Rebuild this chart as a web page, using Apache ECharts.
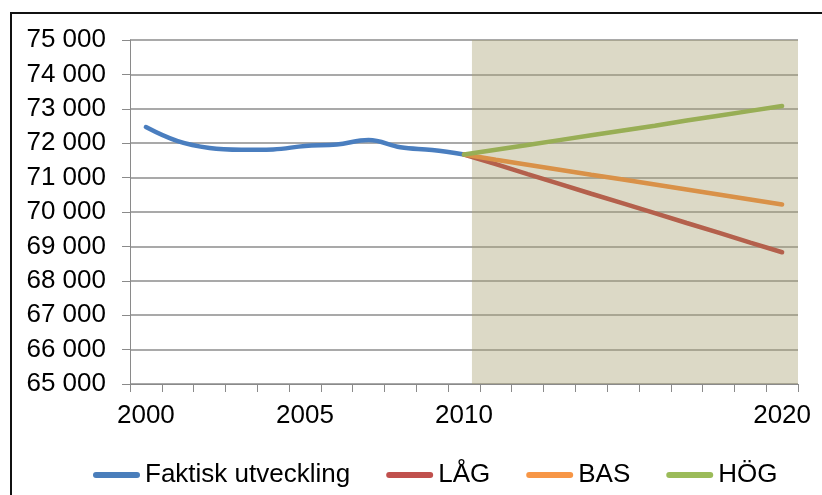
<!DOCTYPE html>
<html>
<head>
<meta charset="utf-8">
<script src="https://cdn.jsdelivr.net/npm/echarts@6/dist/echarts.min.js"></script>
<style>
  html, body { margin: 0; padding: 0; background: #fff; }
  #chart { width: 822px; height: 495px; }
</style>
</head>
<body>
<div id="chart"></div>
<script>
// år på x-axeln
var years = ['2000','2001','2002','2003','2004','2005','2006','2007','2008','2009','2010',
             '2011','2012','2013','2014','2015','2016','2017','2018','2019','2020'];
var labelYears = ['2000','2005','2010','2020'];

// utfall och prognoser (null = inget värde)
var faktisk = [72470, 72060, 71860, 71810, 71820, 71920, 71960, 72090, 71880, 71800, 71670,
               null, null, null, null, null, null, null, null, null, null];
var lag = [null, null, null, null, null, null, null, null, null, null, 71670,
           71390, 71100, 70820, 70530, 70250, 69970, 69680, 69400, 69110, 68830];
var bas = [null, null, null, null, null, null, null, null, null, null, 71670,
           71520, 71375, 71230, 71085, 70945, 70800, 70655, 70510, 70365, 70220];
var hog = [null, null, null, null, null, null, null, null, null, null, 71670,
           71810, 71950, 72090, 72230, 72370, 72510, 72660, 72800, 72940, 73080];

// prognosperiodens skuggade fält (i kategoriposition)
var shadeFrom = 10.75;
var shadeTo = 21;

var font = 'Liberation Sans, Arial, sans-serif';
var chart = echarts.init(document.getElementById('chart'));

function fmt(v) {
  return String(v).replace(/\B(?=(\d{3})+$)/g, ' ');
}

var legendIcon = 'path://M3,0H44A3,3,0,0,1,44,6H3A3,3,0,0,1,3,0Z';

var option = {
  animation: false,
  graphic: [{
    type: 'rect',
    shape: { x: 11, y: 13, width: 900, height: 600 },
    style: { fill: 'none', stroke: '#111', lineWidth: 2 },
    silent: true
  }],
  grid: { left: 130, right: 24, top: 40, bottom: 111 },
  legend: {
    left: 88,
    top: 457,
    itemWidth: 47,
    itemHeight: 6,
    itemGap: 36,
    icon: legendIcon,
    textStyle: { fontSize: 26, fontFamily: font, color: '#000' },
    data: [
      { name: 'Faktisk utveckling', itemStyle: { color: '#4A7EBB' } },
      { name: 'LÅG', itemStyle: { color: '#C0504D' } },
      { name: 'BAS', itemStyle: { color: '#F79646' } },
      { name: 'HÖG', itemStyle: { color: '#9BBB59' } }
    ]
  },
  xAxis: [{
    type: 'category',
    data: years,
    boundaryGap: true,
    axisLine: { lineStyle: { color: '#8a8a8a', width: 1 } },
    axisTick: { show: true, interval: 0, length: 8, lineStyle: { color: '#8a8a8a' } },
    axisLabel: {
      interval: function (i, v) { return labelYears.indexOf(v) >= 0; },
      color: '#000', fontSize: 26, fontFamily: font, margin: 19
    },
    splitLine: { show: false }
  }, {
    type: 'value',
    min: 0,
    max: 21,
    show: false
  }],
  yAxis: {
    type: 'value',
    min: 65000,
    max: 75000,
    interval: 1000,
    axisLine: { show: true, lineStyle: { color: '#8a8a8a', width: 1 } },
    axisTick: { show: true, length: 8, lineStyle: { color: '#8a8a8a' } },
    axisLabel: { formatter: fmt, color: '#000', fontSize: 26, fontFamily: font, margin: 24 },
    splitLine: { show: true, lineStyle: { color: '#8c8c8c', width: 1.5 } }
  },
  series: [
    {
      name: 'prognos',
      type: 'line',
      xAxisIndex: 1,
      data: [],
      z: 1,
      silent: true,
      markArea: {
        silent: true,
        itemStyle: { color: 'rgba(168,160,113,0.4)' },
        data: [[{ xAxis: shadeFrom, yAxis: 65000 }, { xAxis: shadeTo, yAxis: 75000 }]]
      }
    },
    {
      name: 'Faktisk utveckling',
      type: 'line',
      data: faktisk,
      smooth: 0.4,
      showSymbol: false,
      z: 3,
      lineStyle: { color: '#4A7EBF', width: 4.5, cap: 'round' },
      itemStyle: { color: '#4A7EBF' }
    },
    {
      name: 'LÅG',
      type: 'line',
      data: lag,
      showSymbol: false,
      z: 3,
      lineStyle: { color: '#B4604C', width: 4.5, cap: 'round' },
      itemStyle: { color: '#B4604C' }
    },
    {
      name: 'BAS',
      type: 'line',
      data: bas,
      showSymbol: false,
      z: 3,
      lineStyle: { color: '#D99148', width: 4.5, cap: 'round' },
      itemStyle: { color: '#D99148' }
    },
    {
      name: 'HÖG',
      type: 'line',
      data: hog,
      showSymbol: false,
      z: 4,
      lineStyle: { color: '#98AE55', width: 4.5, cap: 'round' },
      itemStyle: { color: '#98AE55' }
    }
  ]
};

chart.setOption(option);
</script>
</body>
</html>
